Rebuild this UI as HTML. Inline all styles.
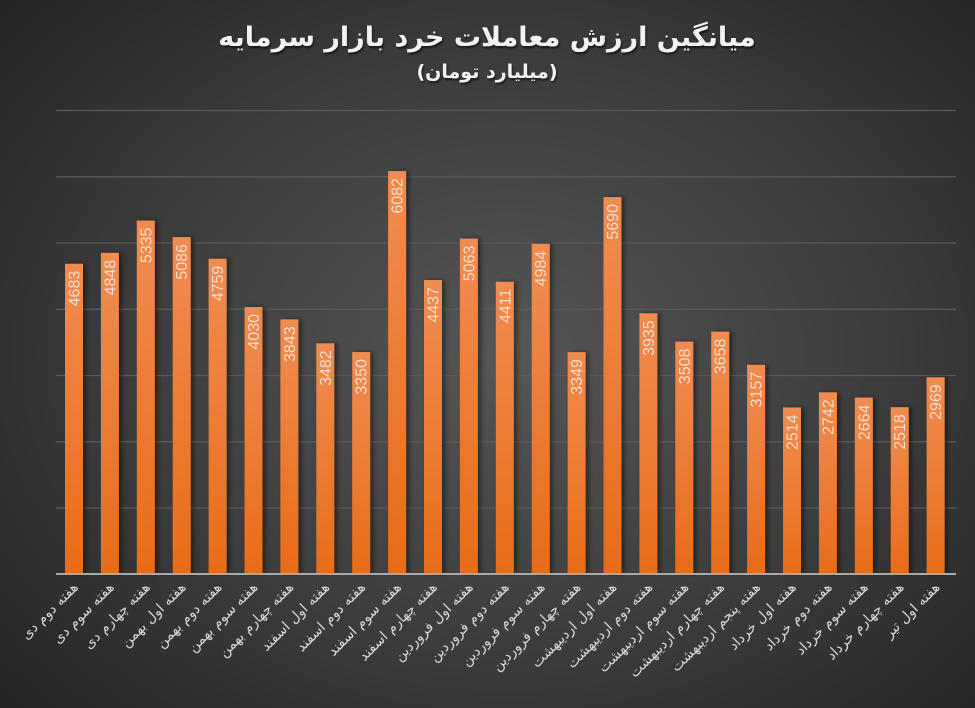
<!DOCTYPE html>
<html><head><meta charset="utf-8">
<style>
html,body{margin:0;padding:0;}
body{width:975px;height:708px;overflow:hidden;background:radial-gradient(ellipse 70% 75% at 52% 50%,#565656 0%,#3c3c3c 55%,#242424 100%);}
svg{display:block;font-family:"Liberation Sans","DejaVu Sans",sans-serif;}
</style></head><body>
<svg width="975" height="708" viewBox="0 0 975 708">
<defs>
<linearGradient id="bg" x1="0" y1="0" x2="0" y2="1">
<stop offset="0" stop-color="#f08c52"/><stop offset="1" stop-color="#e86c18"/>
</linearGradient>
<filter id="sh" x="-50%" y="-10%" width="200%" height="120%"><feDropShadow dx="3" dy="0" stdDeviation="2.5" flood-color="#000" flood-opacity="0.45"/></filter>
<filter id="ts"><feDropShadow dx="1" dy="2" stdDeviation="1" flood-color="#000" flood-opacity="0.6"/></filter>
</defs>
<g filter="url(#ts)" fill="#f2f2f2" font-weight="bold" text-anchor="middle" font-family="'DejaVu Sans','Noto Sans CJK SC',sans-serif">
<text x="487" y="46" font-size="27" letter-spacing="1" direction="rtl">میانگین ارزش معاملات خرد بازار سرمایه</text>
<text x="487" y="78" font-size="19" direction="rtl">(میلیارد تومان)</text>
</g>
<g stroke="#5a5a5a" stroke-width="1.3">
<line x1="56" x2="956" y1="110.5" y2="110.5"/><line x1="56" x2="956" y1="176.8" y2="176.8"/>
<line x1="56" x2="956" y1="243" y2="243"/><line x1="56" x2="956" y1="309.3" y2="309.3"/>
<line x1="56" x2="956" y1="375.5" y2="375.5"/><line x1="56" x2="956" y1="441.8" y2="441.8"/>
<line x1="56" x2="956" y1="508" y2="508"/>
</g>
<g id="bars"></g>
<line x1="56" x2="956" y1="574" y2="574" stroke="#a8a8a8" stroke-width="2"/>
<g id="labels" fill="#d9d9d9" font-size="14" font-family="'DejaVu Sans',sans-serif"></g>
</svg>
<script>
const v=[4683,4848,5335,5086,4759,4030,3843,3482,3350,6082,4437,5063,4411,4984,3349,5690,3935,3508,3658,3157,2514,2742,2664,2518,2969];
const l=["هفته دوم دی","هفته سوم دی","هفته چهارم دی","هفته اول بهمن","هفته دوم بهمن","هفته سوم بهمن","هفته چهارم بهمن","هفته اول اسفند","هفته دوم اسفند","هفته سوم اسفند","هفته چهارم اسفند","هفته اول فروردین","هفته دوم فروردین","هفته سوم فروردین","هفته چهارم فروردین","هفته اول اردیبهشت","هفته دوم اردیبهشت","هفته سوم اردیبهشت","هفته چهارم اردیبهشت","هفته پنجم اردیبهشت","هفته اول خرداد","هفته دوم خرداد","هفته سوم خرداد","هفته چهارم خرداد","هفته اول تیر"];
const ns="http://www.w3.org/2000/svg";
const B=document.getElementById("bars"),L=document.getElementById("labels");
function el(t,a,p,txt){const e=document.createElementNS(ns,t);for(const k in a)e.setAttribute(k,a[k]);if(txt)e.textContent=txt;p.appendChild(e);return e;}
v.forEach((d,i)=>{
 const cx=74+35.9*i,h=d*0.06625,y=574-h;
 el("rect",{x:cx-9,y:y,width:18,height:h,fill:"url(#bg)",filter:"url(#sh)"},B);
 el("text",{transform:`translate(${cx+5.5},${y+7}) rotate(-90)`,"text-anchor":"end",fill:"#f7dccb","font-size":"16"},B,String(d));
 el("text",{transform:`translate(${cx+5},${588}) rotate(-45)`,"text-anchor":"start",direction:"rtl"},L,l[i]);
});
</script>
</body></html>
